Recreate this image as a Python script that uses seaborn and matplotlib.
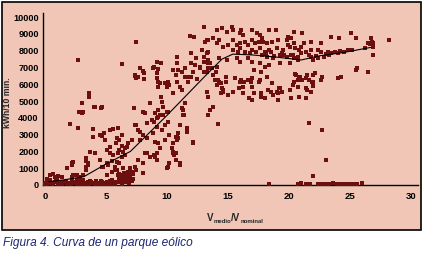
import matplotlib
matplotlib.use("Agg")
import matplotlib.pyplot as plt
from matplotlib.patches import Rectangle
import seaborn as sns
import pandas as pd

# ---- data ----
# dense band of points near zero output (low wind)
band_x = [0.1,0.2,0.3,0.5,0.6,0.8,0.9,1.1,1.2,1.4,1.5,1.7,1.8,2.0,2.1,2.3,2.4,2.6,2.7,2.9,3.0,3.2,3.3,3.5,
          3.6,3.8,3.9,4.1,4.2,4.4,4.5,4.7,4.8,5.0,5.1,5.3,5.4,5.6,5.7,5.9,6.0,6.2,6.3,6.5,6.6,6.8,6.9,7.1,
          0.0,0.4,0.7,1.0,1.3,1.6,1.9,2.2,2.5,2.8,3.1,3.4,3.7,4.0,4.3,4.6,4.9,5.2,5.5,5.8,6.1,6.4,6.7,7.0,
          6.1,6.3,6.5,6.6,6.8,7.0,7.1,7.2,6.4,6.9,7.2,6.2,6.7,7.0]
band_y = [120,60,200,90,30,150,240,80,180,40,110,220,70,140,20,190,100,50,160,230,80,30,130,200,
          60,170,100,40,210,120,60,150,20,90,180,240,50,130,80,200,150,300,60,250,180,350,120,220,
          30,260,110,300,60,170,90,250,130,20,280,70,230,140,10,260,110,40,270,160,420,380,500,460,
          650,550,720,600,680,560,750,640,450,420,380,300,320,280]

# ramp region (wind 0-8)
ramp_x = [2.7,7.5,6.3,3.0,3.6,3.6,4.1,4.6,2.05,7.4,7.5,8.1,7.3,8.0,3.0,2.8,3.1,4.0,4.7,2.7,3.9,3.9,4.7,4.8,
          5.3,5.6,5.9,6.1,5.8,6.3,6.6,6.7,3.7,4.1,5.1,5.3,5.6,6.0,6.3,6.6,2.2,2.3,3.4,3.5,3.4,3.4,5.5,5.9,
          6.1,5.2,5.7,1.8,4.7,5.1,5.5,5.9,6.4,2.3,2.2,2.6,0.7,1.1,0.4,0.15,6.3,6.6,6.8,4.5,4.9,6.0,6.3,5.3,
          6.1,6.4,3.4,4.5,5.1,4.75,5.7,7.0,7.5,8.0,6.0,6.7,6.6,0.4,0.8,1.4,2.9,2.6,3.1,3.5,2.2]
ramp_y = [7450,8500,7200,4280,5470,5240,4640,4580,3630,6490,6370,6310,4580,6780,4880,4340,4340,4640,4640,3390,3330,2860,2920,3090,
          3270,3330,2800,2680,2500,2320,2200,2260,1960,1900,2080,1900,1785,1900,1670,1785,1310,1370,1430,1310,1070,890,1430,1370,
          1310,1190,1070,1010,1070,600,770,890,1010,600,480,600,650,540,300,360,600,710,770,2980,2680,3390,2980,2260,
          2080,1960,1610,1490,1310,1070,890,1010,890,710,600,710,480,600,480,480,480,300,600,1190,1190]

# middle region (wind 7-14)
mid_x = [7.8,7.4,7.6,8.1,8.9,9.3,9.2,9.8,10.1,10.2,10.0,9.4,9.3,10.7,10.9,11.5,12.0,12.3,12.7,13.3,13.4,8.6,9.6,9.7,
         9.3,8.0,8.2,9.0,9.3,9.7,10.1,11.5,11.2,11.4,13.3,13.5,13.4,13.8,7.4,7.6,8.0,7.8,8.9,9.2,9.6,9.8,10.1,9.0,
         9.3,9.8,10.7,10.9,10.8,11.6,12.1,10.4,10.5,10.7,10.6,8.2,8.6,8.9,9.2,10.1,10.0,11.1,7.6,8.0,7.4,7.1,6.8,
         8.85,9.2,9.5,9.2,9.3,9.5,10.8,10.8,10.5,11.2,11.5,11.1,11.2,10.8,10.5,11.3,11.3,12.0,12.4,12.0,12.1,11.8,
         12.5,11.7,13.0,11.9,12.2,13.1,13.4,12.9,13.3,13.4,13.0,13.4,12.7,13.0,13.4,13.4,8.4,8.8,9.2,9.4,10.0,
         7.5,7.8,8.4,8.85,8.4,9.0,9.2,9.4,10.2,10.7,11.1,10.5,10.2,10.8,10.9,11.6,10.5,12.1,11.1,11.6,14.2]
mid_y = [6960,6550,6430,6660,7020,6900,6660,6070,6130,5950,5830,6070,5830,6550,6840,6430,6430,7140,6960,6720,7260,4880,4940,4640,
         4460,4340,4280,4280,4050,4170,4340,4880,4580,4170,5530,4460,4170,4640,3570,3270,2980,2680,3750,3450,3270,3570,3750,2560,
         2500,2680,2860,2800,2680,3270,2560,2200,1960,1900,1785,1900,1670,1785,1490,1070,1010,1190,1490,1310,1070,2680,2500,
         6960,7320,7260,6370,6130,5240,7620,7260,6840,6720,6960,5830,5650,6130,5470,4460,4170,7850,7560,7260,6720,6430,
         6310,6130,9400,8870,8810,8500,8630,8030,7850,7910,7620,7440,7020,6720,6960,5240,3690,3870,3990,4170,4340,
         3570,3150,2800,3090,1900,1670,1900,2200,1310,1490,1310,1900,2980,2860,3090,3150,2500,2500,3570,3390,3630]

# plateau region (wind 13-21)
top_x = [14.1,14.5,14.9,15.3,15.4,16.1,16.0,16.2,17.0,17.4,17.6,17.8,18.4,18.9,13.3,13.8,14.1,14.3,14.6,
         15.0,15.4,15.7,16.0,16.4,16.6,17.0,17.2,17.5,17.9,18.2,18.6,19.1,19.8,20.2,15.4,16.0,16.4,17.0,17.6,
         18.0,18.4,19.0,19.5,20.1,20.5,17.8,18.2,18.7,19.3,19.8,20.3,20.7,13.0,13.5,13.7,14.1,14.3,14.9,15.7,
         16.0,16.6,17.0,17.6,18.4,19.3,20.1,13.8,13.9,14.3,14.8,14.1,14.6,14.5,15.6,16.0,16.2,16.6,17.0,17.6,
         18.2,18.6,19.0,15.4,16.2,19.3,19.4,20.1,14.0,14.2,14.4,14.8,14.6,15.0,14.4,16.1,16.3,15.9,16.9,17.0,
         17.5,17.1,17.7,17.1,18.0,17.7,18.3,18.5,19.1,18.7,19.2,16.7,17.0,17.7,18.0,19.1,
         15.8,16.8,18.1,18.8,19.6,17.3,18.5,19.4]
top_y = [9220,9340,9100,9400,9220,9220,9040,8930,9220,9040,8930,8750,9220,9220,8630,8750,8450,8630,8210,
         8330,8630,8330,8450,8510,8330,8630,8450,8510,8510,8450,8510,8630,8630,8750,8030,8150,7910,8030,8150,
         7910,8030,8150,8030,8210,8150,7735,7620,7560,7735,7620,7735,7620,7320,7260,6960,7020,7560,7440,7560,
         7320,7560,7320,7260,7140,7260,7260,6550,6250,6130,6430,5950,5530,5770,6370,6130,5830,6250,6370,6250,
         6430,6070,5530,5530,5470,5770,5530,5650,6720,6250,6070,6130,5650,5360,5470,6250,6130,5770,6130,5830,
         6130,5470,5470,6840,7020,6720,5650,5530,5470,5360,5770,5180,5060,5240,5180,5060,
         7900,7850,7800,7700,7750,7950,7900,7850]

# high wind region (wind 20-28)
high_x = [20.6,20.8,20.4,20.7,21.4,21.6,22.0,21.97,22.6,21.4,21.8,20.8,21.4,20.2,24.0,24.3,25.5,26.5,26.9,
          23.4,24.1,25.1,25.5,26.7,26.9,28.2,26.6,21.8,22.4,22.6,23.2,23.4,24.0,24.5,24.8,20.8,21.0,21.4,
          21.6,21.8,22.0,22.4,22.9,23.3,20.2,20.4,20.7,22.6,21.8,21.2,21.0,20.4,19.9,21.1,20.4,19.9,26.5,
          26.8,26.9,25.6,20.5,20.9,21.1,21.5,22.1,22.7,21.9,22.0,21.5,20.3,20.7,21.6,22.7,23.0,22.0,
          22.2,23.0,23.8,24.2,25.2,26.2]
high_y = [6550,6430,6130,6250,6370,6250,6550,6130,6250,5770,5530,5240,5180,5180,6370,6430,6840,6720,7735,
          8810,8750,9040,8750,8750,8450,8630,8400,8030,8030,7910,7910,7850,7850,7910,8030,8030,7850,7910,
          7735,7620,7440,7560,7620,7735,7735,7560,7440,8450,8510,8450,8210,8450,8330,9040,9100,8810,8450,
          8510,8210,6960,6600,6430,6250,6550,6660,6430,6130,5890,5650,5950,5830,3690,3270,1490,540,
          7700,7800,7900,8000,8050,8150]

# stopped turbines at high wind (zero output)
zero_x = [18.4,20.7,21.0,21.4,21.7,22.4,22.7,23.0,23.3,23.6,23.9,24.2,24.5,24.8,25.1,25.4,25.6,26.0]
zero_y = [50,60,90,40,80,60,30,70,40,90,50,30,80,40,60,30,70,100]

# fitted farm power curve
curve_x = [0.3, 1.5, 3.2, 5.0, 7.0, 10.0, 13.0, 14.5, 15.4, 17.0, 19.0, 21.0, 22.5, 24.5, 26.7]
curve_y = [200, 300, 500, 1250, 2000, 4150, 6400, 7500, 7800, 7750, 7620, 7450, 7700, 7900, 8200]

x_ticks = [0, 5, 10, 15, 20, 25, 30]
y_ticks = [0, 1000, 2000, 3000, 4000, 5000, 6000, 7000, 8000, 9000, 10000]

# ---- build ----
pts = pd.DataFrame({
    "v": band_x + ramp_x + mid_x + top_x + high_x + zero_x,
    "e": band_y + ramp_y + mid_y + top_y + high_y + zero_y,
})
curve = pd.DataFrame({"v": curve_x, "e": curve_y})

sns.set_theme(style="white")
plt.rcParams["font.family"] = ["Liberation Sans", "DejaVu Sans"]

W, H = 423, 254
fig = plt.figure(figsize=(W / 100, H / 100), dpi=100)
fig.patch.set_facecolor("white")

bg = "#f1c6b6"
frame = Rectangle((1.5 / W, 1 - 229.5 / H), 419.5 / W, 228 / H,
                  transform=fig.transFigure, facecolor=bg,
                  edgecolor="black", linewidth=1.2, zorder=-10)
fig.patches.append(frame)

ax = fig.add_axes([43 / W, (H - 185) / H, 375 / W, 172 / H])
ax.set_zorder(5)
ax.set_facecolor("none")
ax.patch.set_alpha(0)

sns.scatterplot(data=pts, x="v", y="e", ax=ax, marker="s", s=6,
                color="#6e0f0f", linewidth=0, zorder=3)
sns.lineplot(data=curve, x="v", y="e", ax=ax, color="black", linewidth=0.8,
             estimator=None, sort=False, zorder=4)

ax.set_xlim(-0.16, 30.57)
ax.set_ylim(0, 10250)
ax.set_xticks(x_ticks)
ax.set_yticks(y_ticks)
ax.set_xticklabels([str(t) for t in x_ticks], fontsize=6.8, fontweight="bold")
ax.set_yticklabels([str(t) for t in y_ticks], fontsize=6.6, fontweight="bold")
ax.tick_params(axis="both", length=0, pad=3, colors="black")
ax.tick_params(axis="x", pad=5)
for side in ["top", "right"]:
    ax.spines[side].set_visible(False)
for side in ["left", "bottom"]:
    ax.spines[side].set_visible(True)
    ax.spines[side].set_color("black")
    ax.spines[side].set_linewidth(1.0)
ax.grid(False)
ax.set_xlabel("")
ax.set_ylabel("")

# x label built from pieces: V_medio / V_nominal with tiny subscripts
renderer = fig.canvas.get_renderer()
xpos = 207.0
for piece, size, base in [("V", 7, 221), ("medio", 4.3, 223), ("/V", 7, 221), ("nominal", 4.3, 223)]:
    t = fig.text(xpos / W, 1 - base / H, piece, fontsize=size, fontweight="bold",
                 ha="left", va="baseline")
    xpos += t.get_window_extent(renderer).width

fig.text(8 / W, 1 - 103 / H, "kWh/10 min.", rotation=90, fontsize=6.2,
         fontweight="bold", ha="center", va="center")
fig.text(3 / W, 1 - 243 / H, "Figura 4. Curva de un parque eólico",
         fontsize=8.6, style="italic", color="#1c2570", ha="left", va="center")

fig.savefig("out.png", dpi=100)
